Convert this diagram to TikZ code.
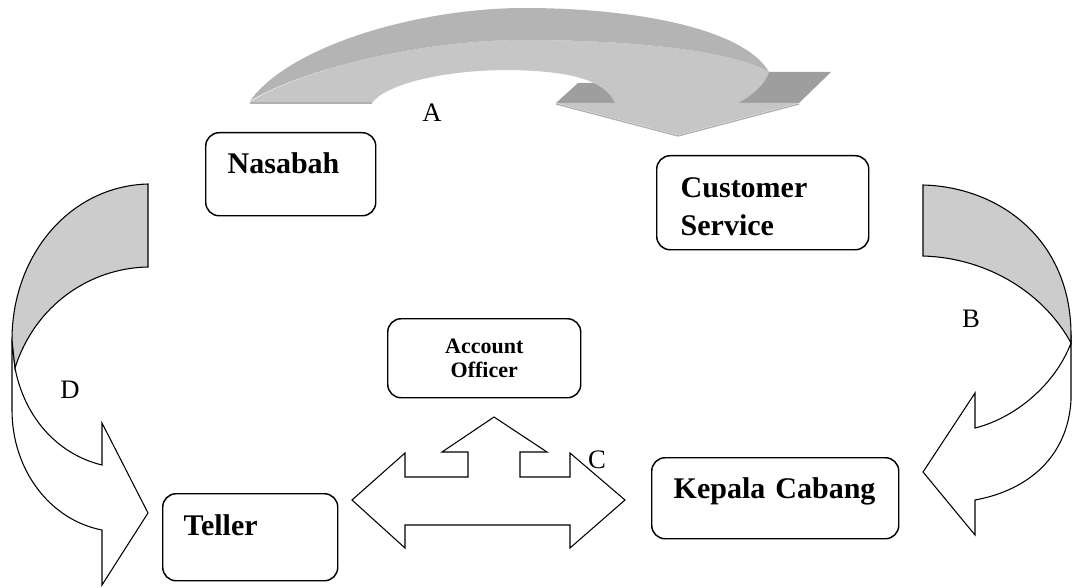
\documentclass[tikz,border=0pt]{standalone}
\usepackage{fontspec}
\setmainfont{Liberation Serif}
\usepackage{tikz}
\definecolor{FlowGrey}{HTML}{CCCCCC}
\definecolor{RibbonTop}{HTML}{C6C6C6}
\definecolor{RibbonWall}{HTML}{999999}
\definecolor{RibbonWallLight}{HTML}{B4B4B4}
\definecolor{RibbonFlap}{HTML}{9E9E9E}
\definecolor{RibbonEdge}{HTML}{B0B0B0}

\begin{document}
\begin{tikzpicture}[x = 0.75pt, y = -0.75pt,
	unit/.style = {draw, rounded corners = 10pt, line width = 1.1pt, anchor = north west, align = left, inner ysep = 0pt, font = \fontsize{22.5}{28.5}\selectfont\bfseries},
	flow/.style = {draw, line width = 0.8pt, fill = white},
	band/.style = {draw, line width = 0.8pt, fill = FlowGrey},
	tag/.style = {inner sep = 0pt, font = \fontsize{20}{20}\selectfont}]
	\path [use as bounding box, draw = none] (0, 0) rectangle (1073, 588);

	% ribbon A (grey 3D arrow on top)
	\fill[RibbonFlap] (556, 103) -- (578, 83) -- (612, 83) -- (615, 103) -- cycle;
	\fill[RibbonFlap] (738, 103) -- (761, 72) -- (831, 72) -- (799, 103) -- cycle;
	\fill[RibbonTop] (250, 102) .. controls (300, 70) and (420, 40) .. (524, 40) .. controls (640, 40) and (735, 52) .. (769, 72) .. controls (765, 85) and (750, 97) .. (738, 103) -- (799, 103) -- (678, 135) -- (556, 103) -- (615, 103) .. controls (605, 80) and (570, 71) .. (510, 70) .. controls (440, 70) and (385, 85) .. (372, 103) -- cycle;
	\shade[left color = RibbonWallLight, middle color = RibbonWall, right color = RibbonWallLight] (250, 101) .. controls (290, 45) and (420, 8) .. (524, 8) .. controls (640, 8) and (745, 30) .. (769, 72) .. controls (735, 52) and (640, 40) .. (524, 40) .. controls (420, 40) and (300, 70) .. (250, 101) -- cycle;
	\draw[RibbonEdge, line width = 1pt] (250, 103) -- (372, 103);
	\draw[RibbonEdge, line width = 1pt] (556, 104) -- (678, 136) -- (799, 104);

	% flow D (left)
	\draw[flow] (12, 340) -- (12, 410) .. controls (12, 470) and (50, 520) .. (102, 530) -- (102, 585) -- (148, 513) -- (102, 423) -- (102, 465) .. controls (60, 455) and (25, 420) .. (15, 368) -- cycle;
	\draw[band] (148, 184) .. controls (70, 186) and (12, 255) .. (12, 340) -- (15, 368) .. controls (35, 305) and (90, 268) .. (148, 267) -- cycle;

	% flow B (right)
	\draw[flow] (1071, 335) -- (1071, 400) .. controls (1068, 455) and (1030, 490) .. (975, 500) -- (975, 535) -- (923, 472) -- (975, 393) -- (975, 428) .. controls (1015, 418) and (1055, 385) .. (1071, 343) -- cycle;
	\draw[band] (923, 185) .. controls (1000, 187) and (1071, 240) .. (1071, 335) -- (1071, 343) .. controls (1045, 295) and (990, 258) .. (923, 256) -- cycle;

	% flow C (double arrow with branch up)
	\draw[flow] (352, 500) -- (405, 453) -- (405, 477) -- (468, 477) -- (468, 452) -- (442, 452) -- (494, 417) -- (547, 452) -- (520, 452) -- (520, 477) -- (570, 477) -- (570, 453) -- (625, 500) -- (570, 548) -- (570, 525) -- (405, 525) -- (405, 548) -- cycle;

	% units
	\node[unit, inner xsep = 16.5pt, text width = 94.5pt, text height = 30.75pt, text depth = 31.5pt] (nasabah) at (205, 132) {Nasabah};
	\node[unit, inner xsep = 18pt, text width = 123pt, text height = 31.5pt, text depth = 39pt] (cs) at (656, 155) {Customer\\Service};
	\node[unit, align = center, inner xsep = 7.5pt, text width = 129.75pt, text height = 26.25pt, text depth = 33pt, font = \fontsize{16.5}{18}\selectfont\bfseries] (ao) at (387, 318) {Account\\Officer};
	\node[unit, inner xsep = 15.75pt, text width = 99.75pt, text height = 31.5pt, text depth = 33.75pt] (teller) at (162, 493) {Teller};
	\node[unit, inner xsep = 16.5pt, text width = 152.25pt, text height = 30.75pt, text depth = 30pt] (kc) at (651, 457) {Kepala Cabang};

	% flow labels
	\node[tag] (la) at (432, 113) {A};
	\node[tag] (lb) at (971, 319) {B};
	\node[tag] (lc) at (597, 460) {C};
	\node[tag] (ld) at (70, 390) {D};
\end{tikzpicture}
\end{document}
